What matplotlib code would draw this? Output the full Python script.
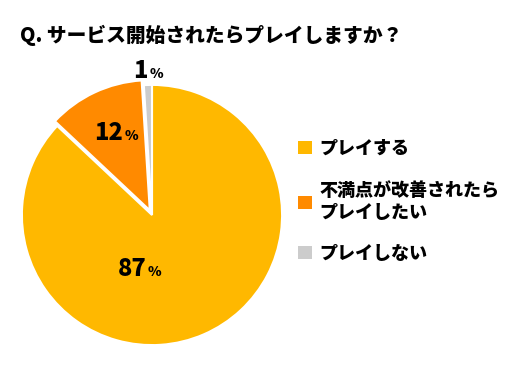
import matplotlib
matplotlib.use('Agg')
import matplotlib.pyplot as plt
from matplotlib.patches import Patch

plt.rcParams['font.family'] = ['Noto Sans CJK JP', 'DejaVu Sans']
plt.rcParams['font.weight'] = 'black'

title = 'Q. サービス開始されたらプレイしますか？'
labels = ['プレイする', '不満点が改善されたら\nプレイしたい', 'プレイしない']
values = [87, 12, 1]
colors = ['#FFB800', '#FF8A00', '#CCCCCC']
explode = [0, 0.04, 0]
# label anchors (data units, pie radius = 1)
pct_pos = [(-0.04, -0.47), (-0.22, 0.58), (-0.03, 1.05)]

fig = plt.figure(figsize=(5.2, 3.74), dpi=100)
ax = fig.add_axes([18 / 520, 25 / 374, 268 / 520, 268 / 374])

ax.pie(values, colors=colors, explode=explode, startangle=90, counterclock=False,
       wedgeprops=dict(edgecolor='white', linewidth=1.5))
ax.set_xlim(-1.03, 1.03)
ax.set_ylim(-1.03, 1.03)
ax.set_aspect('equal')

for v, (x, y) in zip(values, pct_pos):
    ax.text(x, y, str(v), ha='right', va='baseline', fontsize=17, fontweight='black',
            color='black', clip_on=False)
    ax.text(x + 0.01, y, '%', ha='left', va='baseline', fontsize=10, fontweight='black',
            color='black', clip_on=False)

fig.text(20 / 520, 1 - 35 / 374, title, ha='left', va='center', fontsize=14.2,
         fontweight='black')

handles = [Patch(facecolor=c, edgecolor='none') for c in colors]
fig.legend(handles, labels, loc='center left', bbox_to_anchor=(282 / 520, 1 - 201 / 374),
           frameon=False, handlelength=0.75, handleheight=0.75,
           handletextpad=0.4, labelspacing=1.25, prop={'weight': 'black', 'size': 13})

plt.savefig('out.png', dpi=100)
plt.close()
